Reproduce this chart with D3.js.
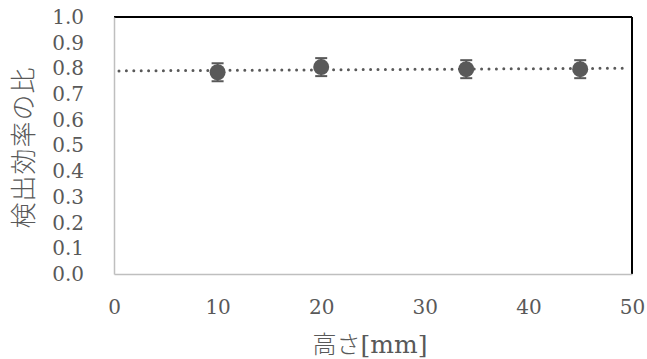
<!DOCTYPE html>
<html>
<head>
<meta charset="utf-8">
<script src="https://cdn.jsdelivr.net/npm/d3@7"></script>
<style>
  html, body { margin: 0; padding: 0; background: #fff; }
  svg { display: block; }
</style>
</head>
<body>
<svg id="chart" width="647" height="359"></svg>
<script>
// Measured heights (mm) and the ratio of detection efficiencies
const heights = [10, 20, 34, 45];
const ratios = [0.785, 0.805, 0.797, 0.797];
const errors = [0.035, 0.035, 0.035, 0.035];
const xTicks = [0, 10, 20, 30, 40, 50];
const yTicks = [0.0, 0.1, 0.2, 0.3, 0.4, 0.5, 0.6, 0.7, 0.8, 0.9, 1.0];

const W = 647, H = 359;
const margin = { left: 114, right: 15, top: 17, bottom: 85 };
const ink = "#595959";
const latin = "'DejaVu Serif', 'Liberation Serif', serif";
const cjk = "'Noto Sans CJK JP', 'Noto Sans CJK SC', sans-serif";

const svg = d3.select("#chart");
const x = d3.scaleLinear().domain([0, 50]).range([margin.left, W - margin.right]);
const y = d3.scaleLinear().domain([0, 1]).range([H - margin.bottom, margin.top]);

// Plot-area frame: dark on top and right, light axis lines on left and bottom
svg.append("line").attr("x1", x(0)).attr("x2", x(50)).attr("y1", y(1)).attr("y2", y(1))
  .attr("stroke", "#000").attr("stroke-width", 2);
svg.append("line").attr("x1", x(50)).attr("x2", x(50)).attr("y1", y(1)).attr("y2", y(0))
  .attr("stroke", "#000").attr("stroke-width", 2);

const yAxis = d3.axisLeft(y).tickValues(yTicks).tickFormat(d3.format(".1f")).tickSize(0).tickPadding(30);
const gy = svg.append("g").attr("transform", `translate(${x(0)},0)`).call(yAxis);
gy.select(".domain").attr("stroke", "#bfbfbf").attr("stroke-width", 1.5);
gy.selectAll("text").attr("fill", ink).attr("font-family", latin).attr("font-size", 20);

const xAxis = d3.axisBottom(x).tickValues(xTicks).tickSize(0).tickPadding(26);
const gx = svg.append("g").attr("transform", `translate(0,${y(0)})`).call(xAxis);
gx.select(".domain").attr("stroke", "#bfbfbf").attr("stroke-width", 1.5);
gx.selectAll("text").attr("fill", ink).attr("font-family", latin).attr("font-size", 20);

// Linear trend line through the points, dotted across the full x range
const mx = d3.mean(heights), my = d3.mean(ratios);
const sxy = d3.sum(heights, (h, i) => (h - mx) * (ratios[i] - my));
const sxx = d3.sum(heights, h => (h - mx) * (h - mx));
const slope = sxy / sxx, icpt = my - slope * mx;
svg.append("line")
  .attr("x1", x(0) + 5).attr("x2", x(50) - 3)
  .attr("y1", y(icpt)).attr("y2", y(icpt + slope * 50))
  .attr("stroke", ink).attr("stroke-width", 3)
  .attr("stroke-linecap", "round").attr("stroke-dasharray", "0 7.4");

const pts = heights.map((h, i) => ({ h, r: ratios[i], e: errors[i] }));

// Error bars with caps
const eb = svg.append("g").attr("stroke", ink).attr("stroke-width", 2);
eb.selectAll(".stem").data(pts).join("line")
  .attr("x1", d => x(d.h)).attr("x2", d => x(d.h))
  .attr("y1", d => y(d.r - d.e)).attr("y2", d => y(d.r + d.e));
eb.selectAll(".capTop").data(pts).join("line")
  .attr("x1", d => x(d.h) - 6).attr("x2", d => x(d.h) + 6)
  .attr("y1", d => y(d.r + d.e)).attr("y2", d => y(d.r + d.e));
eb.selectAll(".capBot").data(pts).join("line")
  .attr("x1", d => x(d.h) - 6).attr("x2", d => x(d.h) + 6)
  .attr("y1", d => y(d.r - d.e)).attr("y2", d => y(d.r - d.e));

// Markers
svg.append("g").selectAll("circle").data(pts).join("circle")
  .attr("cx", d => x(d.h)).attr("cy", d => y(d.r)).attr("r", 8)
  .attr("fill", ink);

// Axis titles
const xt = svg.append("text")
  .attr("x", 370).attr("y", 353)
  .attr("text-anchor", "middle").attr("fill", ink);
xt.append("tspan").attr("font-family", cjk).attr("font-weight", 300).attr("font-size", 24).text("高さ");
xt.append("tspan").attr("font-family", latin).attr("font-size", 25).text("[mm]");

svg.append("text")
  .attr("transform", `translate(33,${(y(0) + y(1)) / 2 + 2}) rotate(-90)`)
  .attr("text-anchor", "middle").attr("fill", ink)
  .attr("font-family", cjk).attr("font-weight", 300).attr("font-size", 26)
  .attr("letter-spacing", 1)
  .text("検出効率の比");
</script>
</body>
</html>
